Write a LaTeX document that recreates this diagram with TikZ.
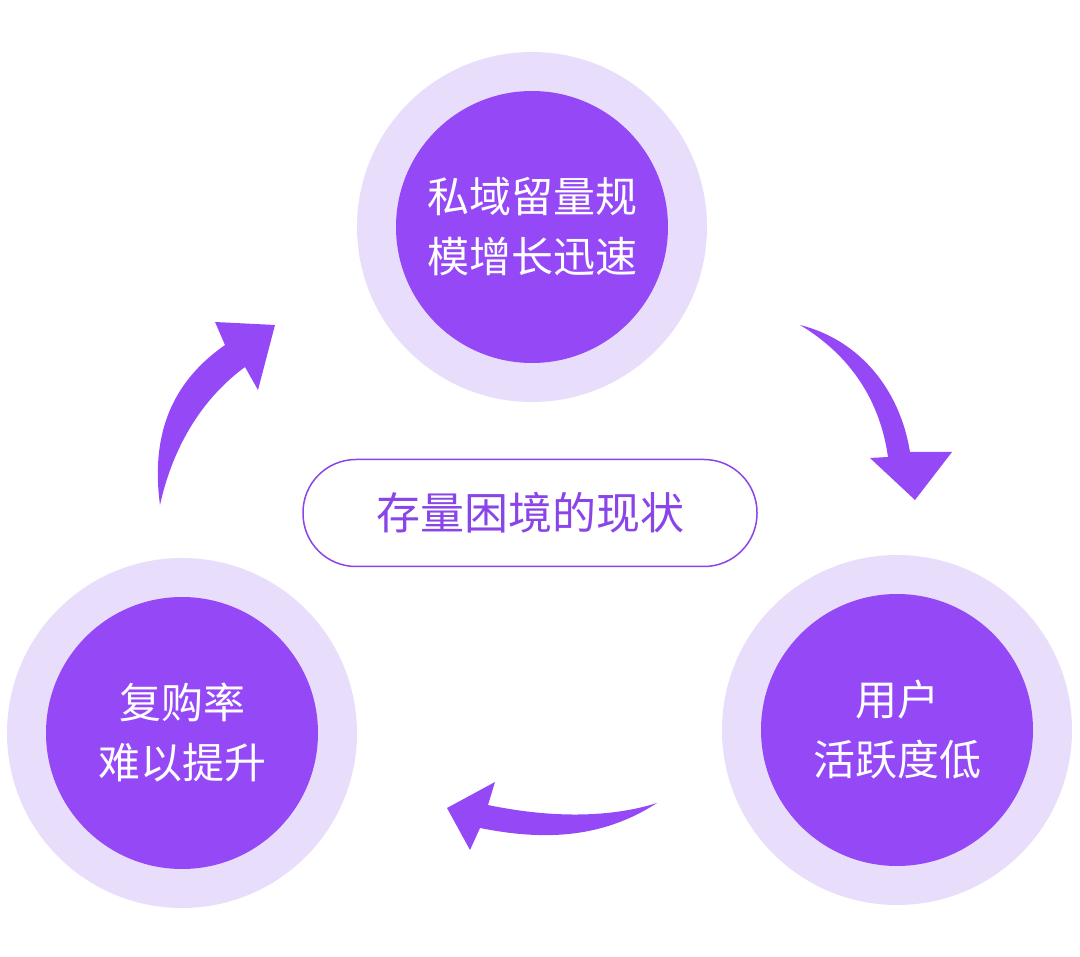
\documentclass[tikz,border=0pt]{standalone}
\usepackage{fontspec}
\newfontfamily\cjk{Noto Sans CJK SC}
\definecolor{lav}{HTML}{E9DDFC}
\definecolor{vio}{HTML}{9549F6}
\definecolor{pt}{HTML}{8A45E8}
\begin{document}
\begin{tikzpicture}[x=1pt,y=-1pt,
  outer/.style={circle,fill=lav,minimum size=350pt,inner sep=0pt},
  inner/.style={circle,fill=vio,minimum size=272pt,inner sep=0pt,text=white,font=\cjk\fontsize{42}{60}\selectfont,align=center},
  arr/.style={fill=vio,draw=none}]
\useasboundingbox[fill=white] (0,0) rectangle (1080,957);
\node[outer] (to) at (532,227) {};
\node[inner] (t) at (532,227) {私域留量规\\模增长迅速};
\node[outer] (lo) at (182,733) {};
\node[inner] (l) at (182,733) {复购率\\难以提升};
\node[outer] (ro) at (897,730) {};
\node[inner] (r) at (897,730) {用户\\活跃度低};
\node[draw=pt,line width=1.5pt,fill=white,rounded corners=53pt,minimum width=454pt,minimum height=107pt,text=pt,font=\cjk\fontsize{44}{50}\selectfont] (c) at (530,513) {存量困境的现状};
% right arrow
\path[arr] (800,325) .. controls (860,340) and (900,390) .. (910,452) -- (952,452) -- (915,500) -- (870,458) -- (888,457) .. controls (880,400) and (850,355) .. (800,325) -- cycle;
% bottom arrow
\path[arr] (657,803) .. controls (600,840) and (540,840) .. (480,828) -- (470,850) -- (447,808) -- (495,782) -- (488,805) .. controls (550,818) and (610,818) .. (657,803) -- cycle;
% left arrow
\path[arr] (160,505) .. controls (150,430) and (175,380) .. (225,345) -- (215,322) -- (275,325) -- (258,390) -- (245,367) .. controls (200,400) and (172,450) .. (160,505) -- cycle;
\end{tikzpicture}
\end{document}
